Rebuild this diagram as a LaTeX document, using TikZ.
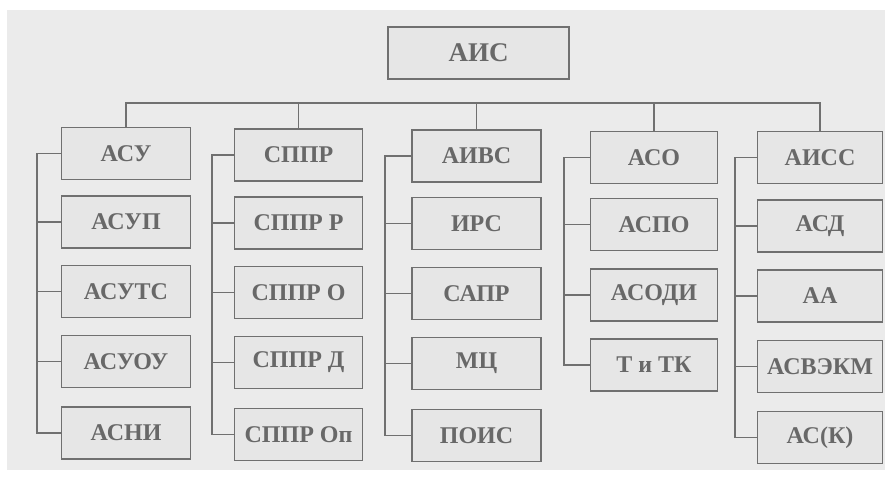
\documentclass[tikz,border=0pt]{standalone}
\usepackage{fontspec}
\setmainfont{Liberation Serif}
\definecolor{bgc}{HTML}{EBEBEB}
\definecolor{boxc}{HTML}{E6E6E6}
\definecolor{linec}{HTML}{707070}
\definecolor{txtc}{HTML}{686868}
\begin{document}
\begin{tikzpicture}[x=1pt,y=-1pt,
  box/.style={draw=linec, line width=1.6pt, fill=boxc, minimum height=52pt,
    inner sep=0pt, text=txtc, font=\fontsize{24}{28}\selectfont\bfseries},
  conn/.style={draw=linec, line width=1.6pt, line cap=rect}]
\useasboundingbox (0,0) rectangle (885,479);
\fill[bgc] (7,10) rectangle (885,470);

% root
\node[box, minimum width=181pt, font=\fontsize{27}{30}\selectfont\bfseries] (ais) at (478.5,53) {АИС};

% column 1
\begin{scope}[every node/.append style={minimum width=129pt}]
\node[box] (asu)   at (126,153.5) {АСУ};
\node[box] (asup)  at (126,222)   {АСУП};
\node[box] (asuts) at (126,291.5) {АСУТС};
\node[box] (asuou) at (126,361.5) {АСУОУ};
\node[box] (asni)  at (126,433)   {АСНИ};
\end{scope}

% column 2
\begin{scope}[every node/.append style={minimum width=128pt}]
\node[box] (sppr)   at (298.5,155)   {СППР};
\node[box] (spprr)  at (298.5,223)   {СППР Р};
\node[box] (sppro)  at (298.5,292.5) {СППР О};
\node[box] (spprd)  at (298.5,362.5) {СППР Д};
\node[box] (spprop) at (298.5,434.5) {СППР Оп};
\end{scope}

% column 3
\begin{scope}[every node/.append style={minimum width=129pt}]
\node[box] (aivs) at (476.5,156)   {АИВС};
\node[box] (irs)  at (476.5,223.5) {ИРС};
\node[box] (sapr) at (476.5,293.5) {САПР};
\node[box] (mc)   at (476.5,363.5) {МЦ};
\node[box] (pois) at (476.5,435.5) {ПОИС};
\end{scope}

% column 4
\begin{scope}[every node/.append style={minimum width=127pt}]
\node[box] (aso)   at (654,157.5) {АСО};
\node[box] (aspo)  at (654,224.5) {АСПО};
\node[box] (asodi) at (654,295)   {АСОДИ};
\node[box] (titk)  at (654,365)   {Т и ТК};
\end{scope}

% column 5
\begin{scope}[every node/.append style={minimum width=125pt}]
\node[box] (aiss)   at (820,157.5) {АИСС};
\node[box] (asd)    at (820,226)   {АСД};
\node[box] (aa)     at (820,296)   {АА};
\node[box] (asvekm) at (820,366.5) {АСВЭКМ};
\node[box] (ask)    at (820,437.5) {АС(К)};
\end{scope}

% bus
\coordinate (bus) at (0,103);
\draw[conn] (asu.north) -- (asu.north |- bus) -- (aiss.north |- bus) -- (aiss.north);
\draw[conn] (sppr.north) -- (sppr.north |- bus);
\draw[conn] (aivs.north) -- (aivs.north |- bus);
\draw[conn] (aso.north) -- (aso.north |- bus);

% spines
\coordinate (s1) at (37,0);
\coordinate (s2) at (212,0);
\coordinate (s3) at (385,0);
\coordinate (s4) at (564,0);
\coordinate (s5) at (735,0);

\draw[conn] (asu.west) -- (asu.west -| s1) -- (asni.west -| s1) -- (asni.west);
\foreach \n in {asup,asuts,asuou} \draw[conn] (\n.west) -- (\n.west -| s1);

\draw[conn] (sppr.west) -- (sppr.west -| s2) -- (spprop.west -| s2) -- (spprop.west);
\foreach \n in {spprr,sppro,spprd} \draw[conn] (\n.west) -- (\n.west -| s2);

\draw[conn] (aivs.west) -- (aivs.west -| s3) -- (pois.west -| s3) -- (pois.west);
\foreach \n in {irs,sapr,mc} \draw[conn] (\n.west) -- (\n.west -| s3);

\draw[conn] (aso.west) -- (aso.west -| s4) -- (titk.west -| s4) -- (titk.west);
\foreach \n in {aspo,asodi} \draw[conn] (\n.west) -- (\n.west -| s4);

\draw[conn] (aiss.west) -- (aiss.west -| s5) -- (ask.west -| s5) -- (ask.west);
\foreach \n in {asd,aa,asvekm} \draw[conn] (\n.west) -- (\n.west -| s5);
\end{tikzpicture}
\end{document}
